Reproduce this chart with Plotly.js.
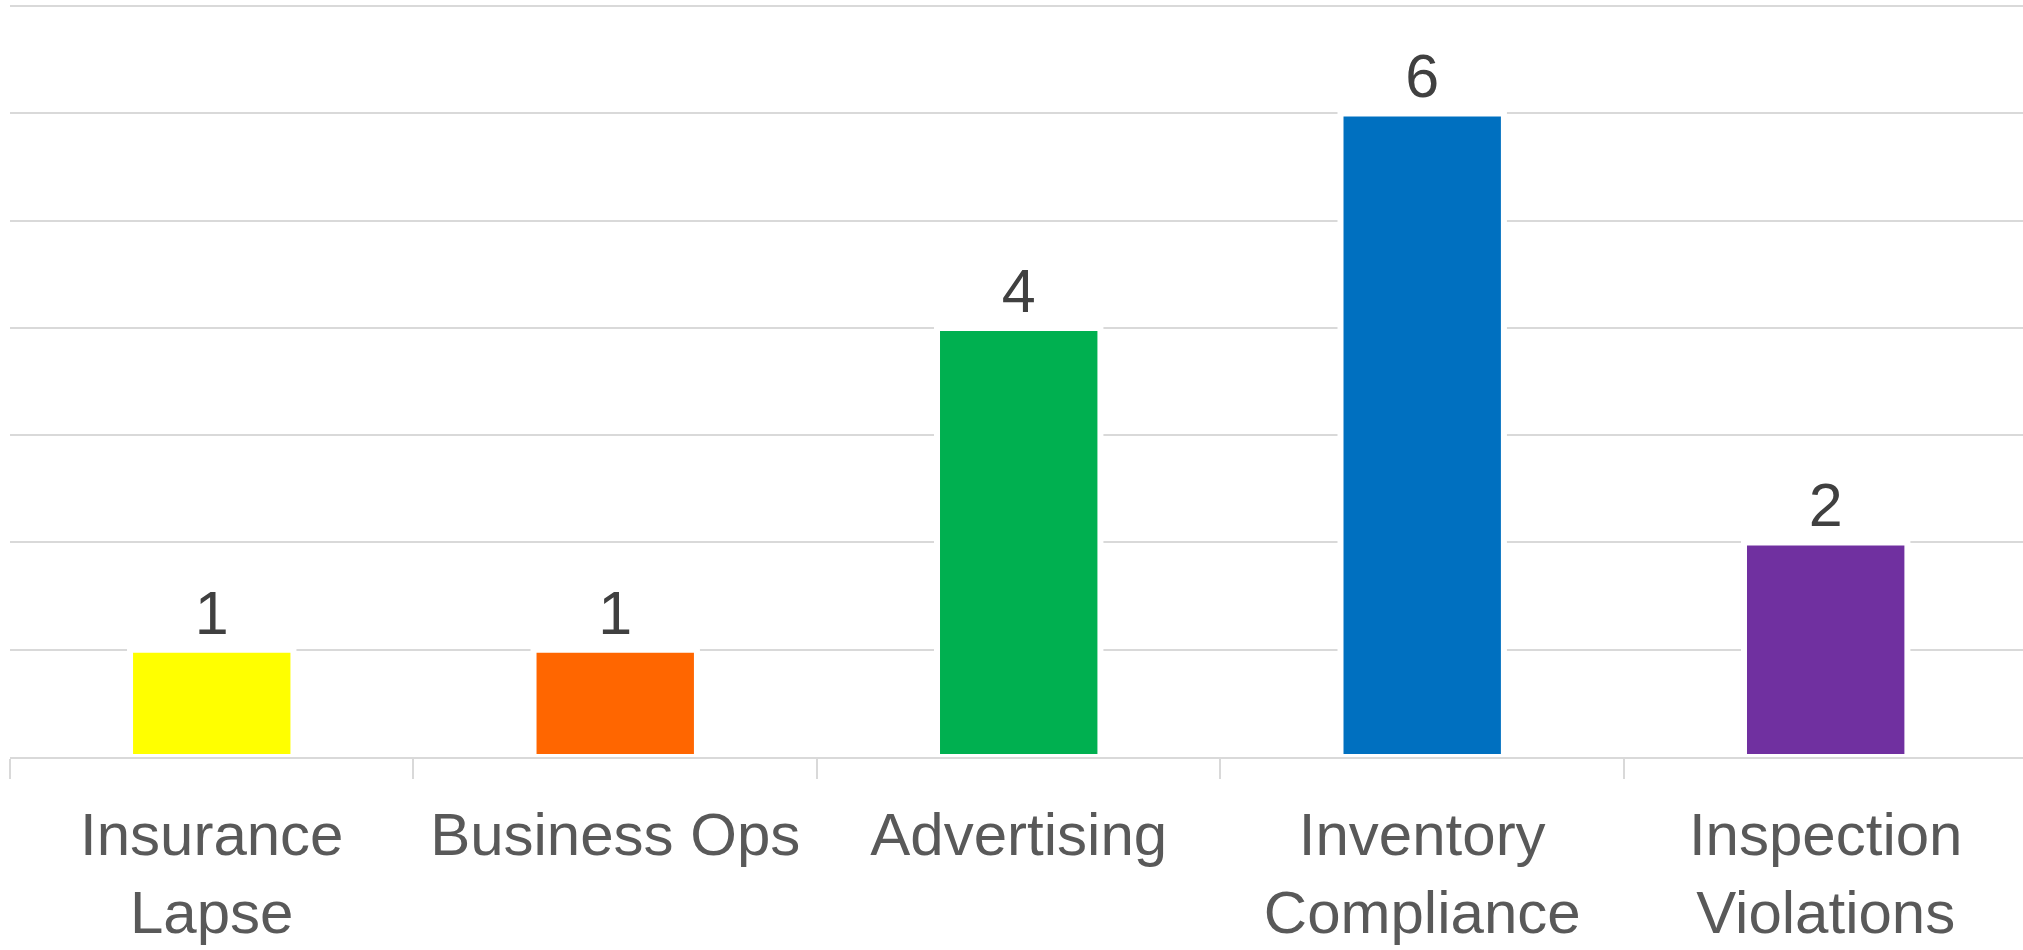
<!DOCTYPE html>
<html>
<head>
<meta charset="utf-8">
<script src="https://cdn.plot.ly/plotly-3.0.1.min.js"></script>
<style>
  html, body { margin: 0; padding: 0; background: #ffffff; }
  #chart { width: 2023px; height: 950px; }
</style>
</head>
<body>
<div id="chart"></div>
<script>
const categories = ["Insurance Lapse", "Business Ops", "Advertising", "Inventory Compliance", "Inspection Violations"];
const tickLabels = ["Insurance<br>Lapse", "Business Ops", "Advertising", "Inventory<br>Compliance", "Inspection<br>Violations"];
const counts = [1, 1, 4, 6, 2];
const barColors = ["#FFFF00", "#FF6600", "#00B050", "#0070C0", "#7030A0"];

const trace = {
  type: "bar",
  x: categories,
  y: counts,
  marker: { color: barColors, line: { color: "#FFFFFF", width: 6 } },
  text: counts.map(String),
  textposition: "outside",
  constraintext: "none",
  cliponaxis: false,
  textfont: { family: "Liberation Sans, Arial, sans-serif", size: 61, color: "#404040" },
  hoverinfo: "x+y"
};

const layout = {
  width: 2023,
  height: 950,
  margin: { l: 10, r: 0, t: 4, b: 193 },
  paper_bgcolor: "#FFFFFF",
  plot_bgcolor: "#FFFFFF",
  showlegend: false,
  bargap: 0.595,
  xaxis: {
    type: "category",
    range: [-0.5, 4.489],
    tickvals: categories,
    ticktext: tickLabels,
    showgrid: false,
    showline: true,
    linecolor: "#D9D9D9",
    linewidth: 2,
    ticks: "outside",
    tickson: "boundaries",
    ticklen: 20,
    tickcolor: "#D9D9D9",
    tickwidth: 2,
    ticklabelstandoff: 24,
    tickfont: { family: "Liberation Sans, Arial, sans-serif", size: 60, color: "#595959" },
    zeroline: false
  },
  yaxis: {
    range: [0, 7.02],
    dtick: 1,
    tick0: 0,
    showticklabels: false,
    showgrid: true,
    gridcolor: "#D9D9D9",
    gridwidth: 2,
    zeroline: false,
    showline: false,
    ticks: ""
  }
};

Plotly.newPlot("chart", [trace], layout, { displayModeBar: false, staticPlot: true });
</script>
</body>
</html>
